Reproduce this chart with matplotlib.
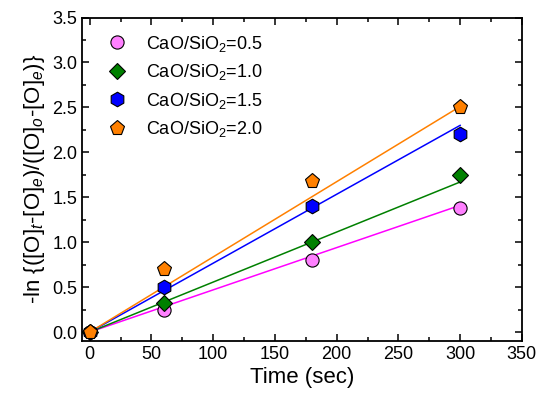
import matplotlib
matplotlib.use("Agg")
import matplotlib.pyplot as plt
from matplotlib.ticker import MultipleLocator

plt.rcParams['font.family'] = ['Liberation Sans', 'DejaVu Sans']
plt.rcParams['mathtext.fontset'] = 'custom'
plt.rcParams['mathtext.rm'] = 'Liberation Sans'
plt.rcParams['mathtext.it'] = 'Liberation Sans:italic'

# measured points
time = [0, 60, 180, 300]
y_05 = [0.0, 0.25, 0.80, 1.38]
y_10 = [0.0, 0.32, 1.00, 1.75]
y_15 = [0.0, 0.50, 1.40, 2.20]
y_20 = [0.0, 0.70, 1.68, 2.50]

# fitted lines (start and end values)
fit_t = [0, 300]
fit_05 = [0.0, 1.41]
fit_10 = [0.0, 1.67]
fit_15 = [0.0, 2.30]
fit_20 = [0.0, 2.51]

labels = ['CaO/SiO$_2$=0.5', 'CaO/SiO$_2$=1.0', 'CaO/SiO$_2$=1.5', 'CaO/SiO$_2$=2.0']

fig, ax = plt.subplots(figsize=(5.38, 3.98), dpi=100)
fig.subplots_adjust(left=0.153, right=0.97, top=0.956, bottom=0.143)

ax.plot(fit_t, fit_05, color='#ff00ff', lw=1.1)
ax.plot(fit_t, fit_10, color='#008000', lw=1.1)
ax.plot(fit_t, fit_15, color='#0000ff', lw=1.1)
ax.plot(fit_t, fit_20, color='#ff8000', lw=1.1)

ax.plot(time, y_05, 'o', ms=9.5, mfc='#ff80ff', mec='black', mew=0.8, label=labels[0])
ax.plot(time, y_10, 'D', ms=8.5, mfc='#008000', mec='black', mew=0.8, label=labels[1])
ax.plot(time, y_15, 'h', ms=10.5, mfc='#0000ff', mec='black', mew=0.8, label=labels[2])
ax.plot(time, y_20, 'p', ms=11, mfc='#ff8000', mec='black', mew=0.8, label=labels[3])

ax.set_xlim(-6, 350)
ax.set_ylim(-0.1, 3.5)
ax.xaxis.set_major_locator(MultipleLocator(50))
ax.xaxis.set_minor_locator(MultipleLocator(25))
ax.yaxis.set_major_locator(MultipleLocator(0.5))
ax.yaxis.set_minor_locator(MultipleLocator(0.25))
ax.tick_params(which='both', direction='in', top=True, right=True, labelsize=13, width=1.1)
ax.tick_params(which='major', length=5)
ax.tick_params(which='minor', length=3)
for s in ax.spines.values():
    s.set_linewidth(1.3)

ax.set_xlabel('Time (sec)', fontsize=16, labelpad=3)
ax.set_ylabel('-ln {([O]$_t$-[O]$_e$)/([O]$_o$-[O]$_e$)}', fontsize=16, labelpad=4)

ax.legend(loc='upper left', frameon=False, fontsize=13, handletextpad=0.6,
          borderaxespad=0.6, labelspacing=0.47, borderpad=0.3)

fig.savefig('out.png', dpi=100)
